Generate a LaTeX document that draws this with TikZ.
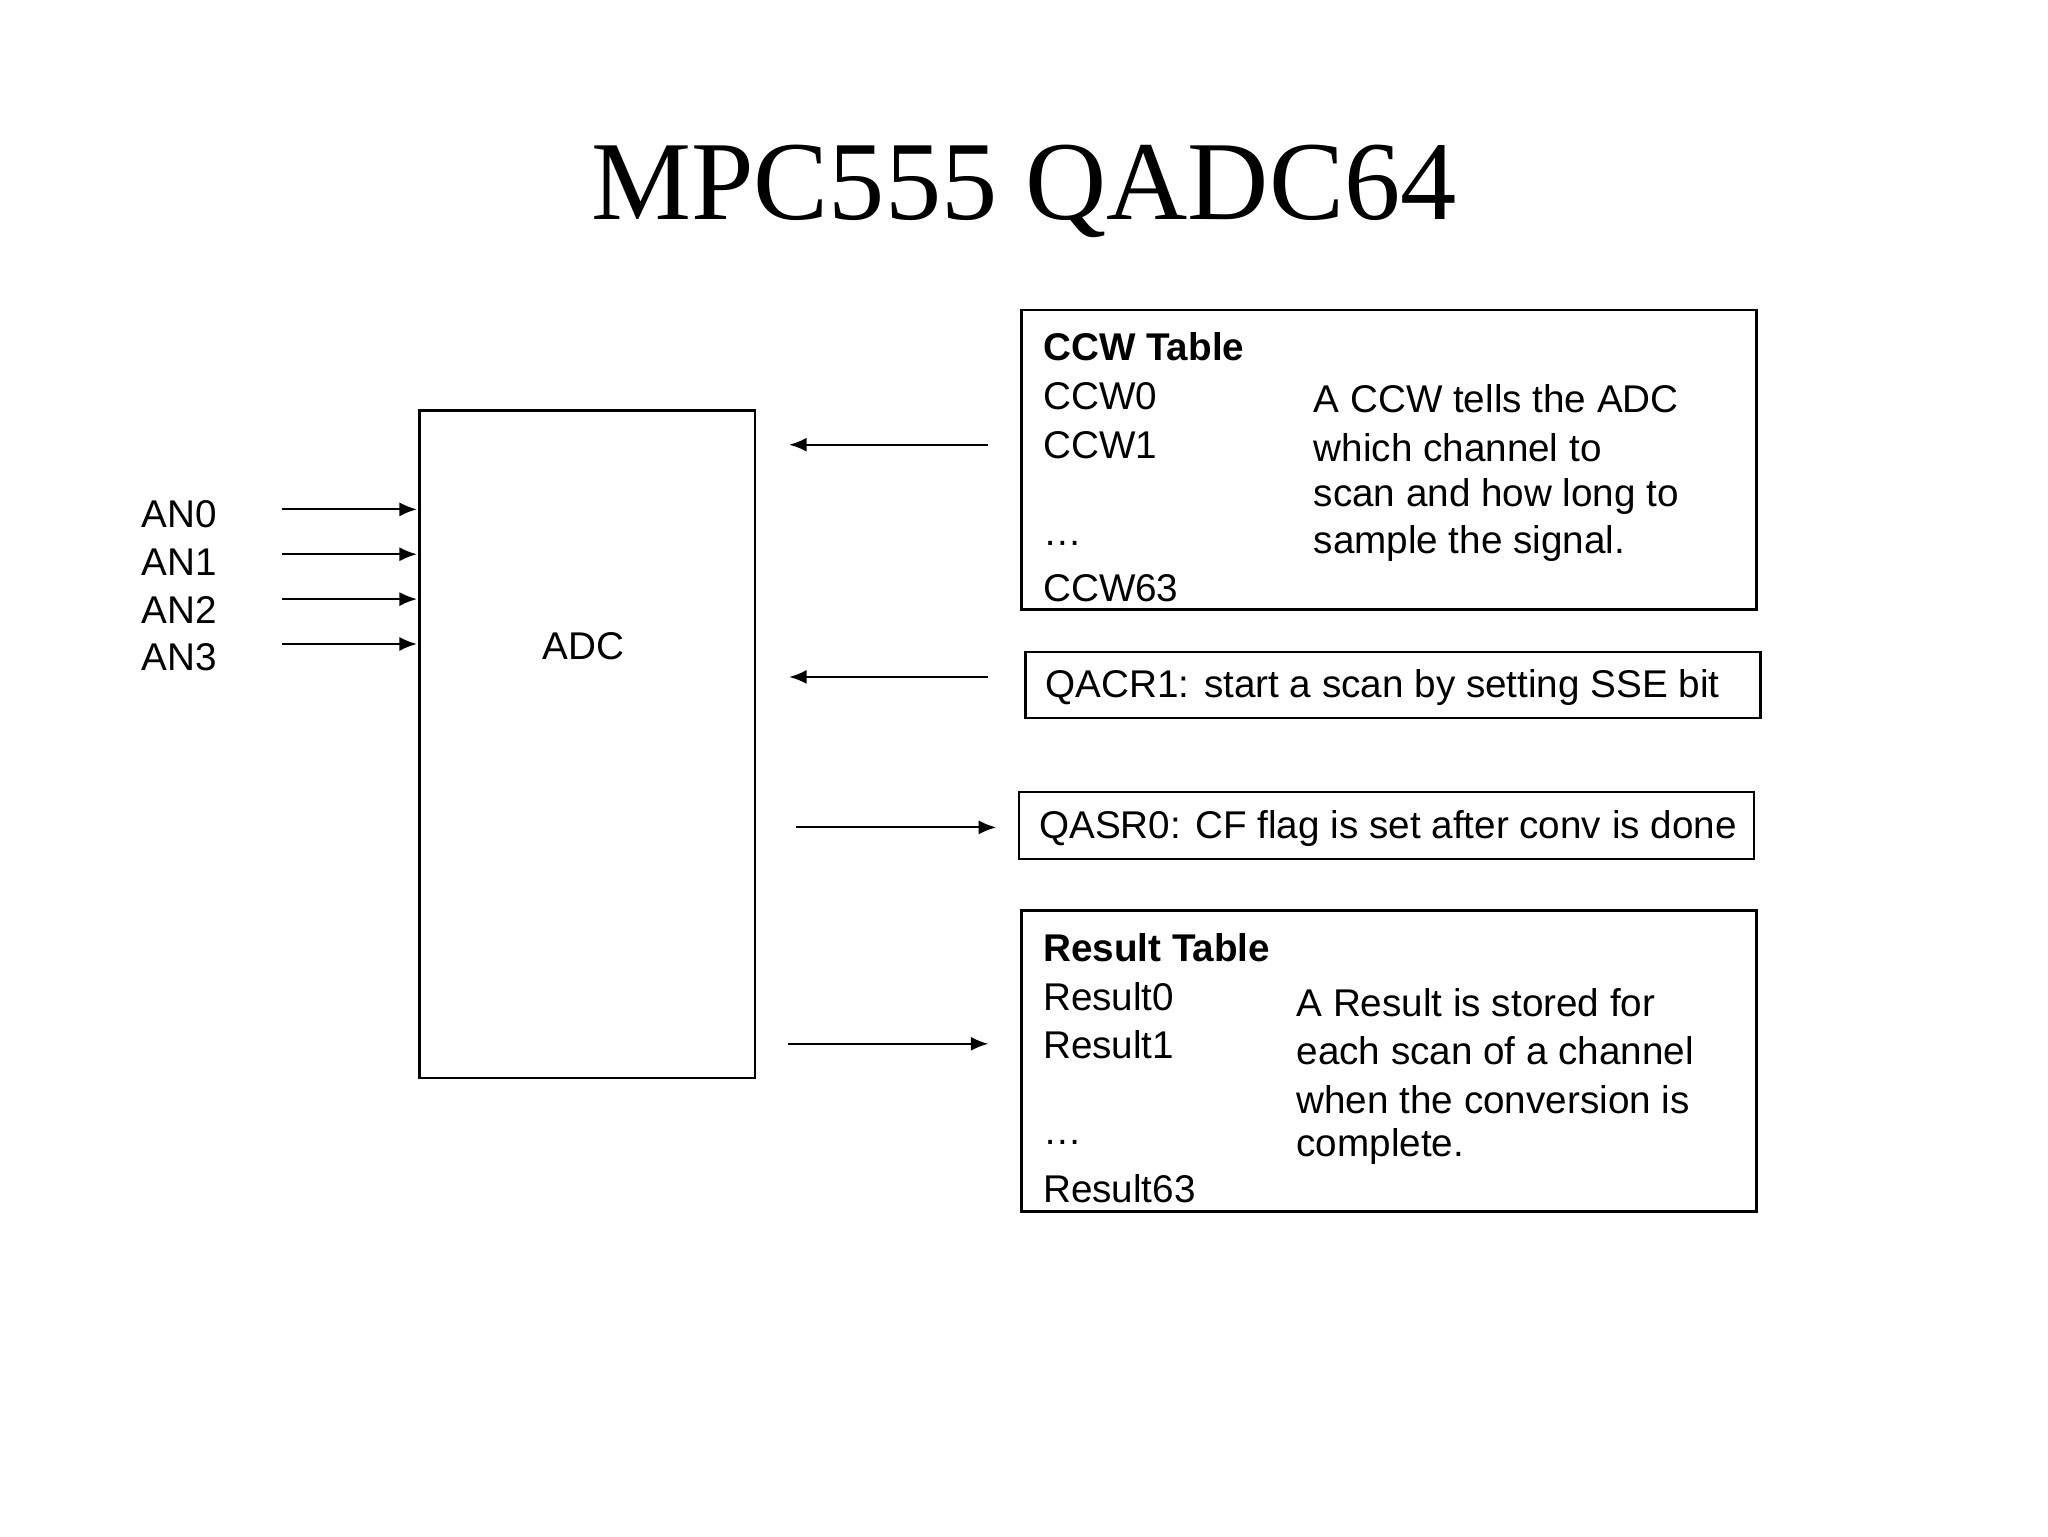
\documentclass[tikz,border=0pt]{standalone}
\usepackage{fontspec}
\setmainfont{Liberation Sans}
\newfontfamily\titlefont{Liberation Serif}
\usetikzlibrary{arrows.meta}
\begin{document}
\begin{tikzpicture}[x=0.013196cm,y=-0.013196cm,
  txt/.style={anchor=west,inner sep=0pt,font=\fontsize{11}{13}\selectfont},
  box/.style={draw,line width=0.7pt},
  arr/.style={-{Latex[length=5pt,width=4pt]},line width=0.6pt}]
\useasboundingbox (0,0) rectangle (1552,1164);
\node[font=\titlefont\fontsize{32}{36}\selectfont] (title) at (776,145) {MPC555 QADC64};
\draw[box] (318,311) rectangle (572,817);
\node[font=\fontsize{11}{13}\selectfont] (adc) at (442,490) {ADC};
\foreach \i/\ly/\ay in {0/390/386,1/426/420,2/462/454,3/498/488}{
  \node[txt] (an\i) at (107,\ly) {AN\i};
  \coordinate (s\i) at (214,\ay); \coordinate (e\i) at (316,\ay);
  \draw[arr] (s\i) -- (e\i);
}
% CCW table
\draw[box] (774,235) rectangle (1331,462);
\node[txt,font=\bfseries\fontsize{11}{13}\selectfont] (ccwt) at (790,263) {CCW Table};
\node[txt] (c0) at (790,300) {CCW0};
\node[txt] (c1) at (790,337) {CCW1};
\node[txt] (cd) at (790,412) {\dots};
\node[txt] (c63) at (790,446) {CCW63};
\node[txt] (cr1) at (995,302) {A CCW tells the ADC};
\node[txt] (cr2) at (995,339) {which channel to};
\node[txt] (cr3) at (995,376) {scan and how long to};
\node[txt] (cr4) at (995,412) {sample the signal.};
\coordinate (a1s) at (749,337); \coordinate (a1e) at (598,337);
\draw[arr] (a1s) -- (a1e);
% QACR1
\draw[box] (777,494) rectangle (1334,544);
\node[txt] (qacr) at (792,521) {QACR1: start a scan by setting SSE bit};
\coordinate (a2s) at (749,513); \coordinate (a2e) at (598,513);
\draw[arr] (a2s) -- (a2e);
% QASR0
\draw[box] (772,600) rectangle (1329,651);
\node[txt] (qasr) at (787,628) {QASR0: CF flag is set after conv is done};
\coordinate (a3s) at (603,627); \coordinate (a3e) at (755,627);
\draw[arr] (a3s) -- (a3e);
% Result table
\draw[box] (774,690) rectangle (1331,918);
\node[txt,font=\bfseries\fontsize{11}{13}\selectfont] (rt) at (790,718) {Result Table};
\node[txt] (r0) at (790,755) {Result0};
\node[txt] (r1) at (790,792) {Result1};
\node[txt] (rd) at (790,866) {\dots};
\node[txt] (r63) at (790,901) {Result63};
\node[txt] (rr1) at (982,760) {A Result is stored for};
\node[txt] (rr2) at (982,796) {each scan of a channel};
\node[txt] (rr3) at (982,833) {when the conversion is};
\node[txt] (rr4) at (982,869) {complete.};
\coordinate (a4s) at (597,791); \coordinate (a4e) at (749,791);
\draw[arr] (a4s) -- (a4e);
\end{tikzpicture}
\end{document}
